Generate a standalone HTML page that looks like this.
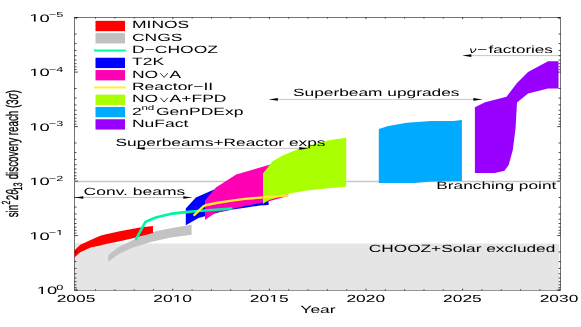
<!DOCTYPE html>
<html><head><meta charset="utf-8"><title>chart</title><style>html,body{margin:0;padding:0;background:#fff}svg{display:block;will-change:transform}text{font-family:"Liberation Sans",sans-serif;fill:#000;text-rendering:geometricPrecision}</style></head><body>
<svg width="581" height="327" viewBox="0 0 581 327">
<rect width="581" height="327" fill="#fff"/>
<rect x="74.5" y="17.4" width="486.1" height="273.0" fill="none" stroke="#000" stroke-width="0.55"/>
<rect x="75.2" y="243.5" width="484.00000000000006" height="46.80000000000001" fill="#e5e5e5"/>
<line x1="74.5" x2="560.6" y1="181.55" y2="181.55" stroke="#c8c8c8" stroke-width="1.5"/>
<polygon points="108.3,255.0 118.7,247.1 132.9,239.9 145.0,234.8 157.5,230.8 175.0,227.6 191.6,224.7 191.6,234.8 170.8,237.6 151.8,241.7 132.9,247.5 118.7,254.1 108.3,261.7" fill="#c3c3c3"/>
<polygon points="74.4,250.5 80.3,244.8 90.6,239.9 100.3,235.8 105.0,234.5 120.9,231.0 140.0,227.5 153.0,226.0 153.0,232.9 136.0,237.6 120.9,241.0 105.0,244.3 100.3,245.4 90.6,247.5 80.3,252.3 74.4,257.4" fill="#ff0000"/>
<polygon points="185.8,208.5 195.9,197.5 213.0,190.0 236.6,181.0 268.6,170.0 268.6,205.0 260.0,205.5 245.0,207.8 232.8,209.6 220.3,212.0 205.0,216.2 198.5,217.9 185.8,225.2" fill="#0000ff"/>
<polygon points="205.0,200.4 215.9,187.4 236.2,174.6 270.5,164.4 288.1,159.0 288.1,196.1 269.0,201.2 245.0,206.1 230.7,209.2 215.1,213.1 205.0,220.1" fill="#ff00b4"/>
<polyline points="136.0,239.2 145.5,221.9 149.1,220.3 156.6,217.3 170.4,213.9 185.5,212.1 195.0,211.3 231.3,208.5" fill="none" stroke="#00f5a0" stroke-width="2.6" stroke-linejoin="round" stroke-linecap="round"/>
<polygon points="263.0,173.6 272.6,161.3 283.2,155.2 299.0,148.7 314.6,144.0 330.2,140.1 346.2,137.7 346.2,186.8 330.2,188.1 306.8,190.4 289.6,193.5 268.6,200.2 263.0,203.8" fill="#aaff00"/>
<polyline points="194.4,214.9 203.6,206.2 205.5,205.2 216.2,203.0 231.8,200.6 245.0,198.9 268.0,197.0 287.7,195.4" fill="none" stroke="#ffea30" stroke-width="2.4" stroke-linejoin="round" stroke-linecap="round"/>
<polygon points="378.8,129.1 388.3,125.9 406.7,122.7 431.1,121.0 453.1,121.0 461.9,119.9 461.9,180.9 431.1,181.4 414.0,182.9 378.8,182.9" fill="#00aaff"/>
<polygon points="474.9,107.3 485.1,102.3 506.5,96.8 517.0,83.0 528.0,71.9 548.0,61.3 558.5,61.3 558.5,88.5 548.0,88.5 528.0,93.5 517.0,102.5 515.6,127.7 512.8,149.9 508.7,165.1 504.5,170.7 494.8,172.9 474.9,172.9" fill="#9900ff"/>
<path d="M76.20,290.4v-1.8M76.20,17.4v1.8M95.52,290.4v-1.2M95.52,17.4v1.2M114.84,290.4v-1.2M114.84,17.4v1.2M134.16,290.4v-1.2M134.16,17.4v1.2M153.48,290.4v-1.2M153.48,17.4v1.2M172.80,290.4v-1.8M172.80,17.4v1.8M192.12,290.4v-1.2M192.12,17.4v1.2M211.44,290.4v-1.2M211.44,17.4v1.2M230.76,290.4v-1.2M230.76,17.4v1.2M250.08,290.4v-1.2M250.08,17.4v1.2M269.40,290.4v-1.8M269.40,17.4v1.8M288.72,290.4v-1.2M288.72,17.4v1.2M308.04,290.4v-1.2M308.04,17.4v1.2M327.36,290.4v-1.2M327.36,17.4v1.2M346.68,290.4v-1.2M346.68,17.4v1.2M366.00,290.4v-1.8M366.00,17.4v1.8M385.32,290.4v-1.2M385.32,17.4v1.2M404.64,290.4v-1.2M404.64,17.4v1.2M423.96,290.4v-1.2M423.96,17.4v1.2M443.28,290.4v-1.2M443.28,17.4v1.2M462.60,290.4v-1.8M462.60,17.4v1.8M481.92,290.4v-1.2M481.92,17.4v1.2M501.24,290.4v-1.2M501.24,17.4v1.2M520.56,290.4v-1.2M520.56,17.4v1.2M539.88,290.4v-1.2M539.88,17.4v1.2M559.20,290.4v-1.8M559.20,17.4v1.8M74.5,17.60h3.4M560.6,17.60h-3.4M74.5,34.01h2.0M560.6,34.01h-2.0M74.5,43.60h2.0M560.6,43.60h-2.0M74.5,50.41h2.0M560.6,50.41h-2.0M74.5,55.69h2.0M560.6,55.69h-2.0M74.5,60.01h2.0M560.6,60.01h-2.0M74.5,63.66h2.0M560.6,63.66h-2.0M74.5,66.82h2.0M560.6,66.82h-2.0M74.5,69.61h2.0M560.6,69.61h-2.0M74.5,72.10h3.4M560.6,72.10h-3.4M74.5,88.51h2.0M560.6,88.51h-2.0M74.5,98.10h2.0M560.6,98.10h-2.0M74.5,104.91h2.0M560.6,104.91h-2.0M74.5,110.19h2.0M560.6,110.19h-2.0M74.5,114.51h2.0M560.6,114.51h-2.0M74.5,118.16h2.0M560.6,118.16h-2.0M74.5,121.32h2.0M560.6,121.32h-2.0M74.5,124.11h2.0M560.6,124.11h-2.0M74.5,126.60h3.4M560.6,126.60h-3.4M74.5,143.01h2.0M560.6,143.01h-2.0M74.5,152.60h2.0M560.6,152.60h-2.0M74.5,159.41h2.0M560.6,159.41h-2.0M74.5,164.69h2.0M560.6,164.69h-2.0M74.5,169.01h2.0M560.6,169.01h-2.0M74.5,172.66h2.0M560.6,172.66h-2.0M74.5,175.82h2.0M560.6,175.82h-2.0M74.5,178.61h2.0M560.6,178.61h-2.0M74.5,181.10h3.4M560.6,181.10h-3.4M74.5,197.51h2.0M560.6,197.51h-2.0M74.5,207.10h2.0M560.6,207.10h-2.0M74.5,213.91h2.0M560.6,213.91h-2.0M74.5,219.19h2.0M560.6,219.19h-2.0M74.5,223.51h2.0M560.6,223.51h-2.0M74.5,227.16h2.0M560.6,227.16h-2.0M74.5,230.32h2.0M560.6,230.32h-2.0M74.5,233.11h2.0M560.6,233.11h-2.0M74.5,235.60h3.4M560.6,235.60h-3.4M74.5,252.01h2.0M560.6,252.01h-2.0M74.5,261.60h2.0M560.6,261.60h-2.0M74.5,268.41h2.0M560.6,268.41h-2.0M74.5,273.69h2.0M560.6,273.69h-2.0M74.5,278.01h2.0M560.6,278.01h-2.0M74.5,281.66h2.0M560.6,281.66h-2.0M74.5,284.82h2.0M560.6,284.82h-2.0M74.5,287.61h2.0M560.6,287.61h-2.0M74.5,290.10h3.4M560.6,290.10h-3.4" stroke="#000" stroke-width="0.7" fill="none"/>
<text transform="translate(56.65,302.00) scale(1.689,1)" font-size="10.3">2005</text>
<text transform="translate(153.25,302.00) scale(1.689,1)" font-size="10.3">20</text>
<path transform="translate(172.60,302.00) scale(0.00849,-0.00503)" d="M515 0V1237L197 1010V1180L530 1409H696V0Z" fill="#000"/>
<text transform="translate(182.28,302.00) scale(1.689,1)" font-size="10.3">0</text>
<text transform="translate(249.85,302.00) scale(1.689,1)" font-size="10.3">20</text>
<path transform="translate(269.20,302.00) scale(0.00849,-0.00503)" d="M515 0V1237L197 1010V1180L530 1409H696V0Z" fill="#000"/>
<text transform="translate(278.88,302.00) scale(1.689,1)" font-size="10.3">5</text>
<text transform="translate(346.45,302.00) scale(1.689,1)" font-size="10.3">2020</text>
<text transform="translate(443.05,302.00) scale(1.689,1)" font-size="10.3">2025</text>
<text transform="translate(539.65,302.00) scale(1.689,1)" font-size="10.3">2030</text>
<text transform="translate(318.00,312.80) scale(1.664,1)" font-size="10.5" text-anchor="middle" >Year</text>
<path transform="translate(29.32,21.50) scale(0.00899,-0.00522)" d="M515 0V1237L197 1010V1180L530 1409H696V0Z" fill="#000"/>
<text transform="translate(39.55,21.50) scale(1.72,1)" font-size="10.7">0</text>
<text transform="translate(48.79,17.10) scale(1.72,1)" font-size="7.4">−5</text>
<path transform="translate(29.32,76.00) scale(0.00899,-0.00522)" d="M515 0V1237L197 1010V1180L530 1409H696V0Z" fill="#000"/>
<text transform="translate(39.55,76.00) scale(1.72,1)" font-size="10.7">0</text>
<text transform="translate(48.79,71.60) scale(1.72,1)" font-size="7.4">−4</text>
<path transform="translate(29.32,130.50) scale(0.00899,-0.00522)" d="M515 0V1237L197 1010V1180L530 1409H696V0Z" fill="#000"/>
<text transform="translate(39.55,130.50) scale(1.72,1)" font-size="10.7">0</text>
<text transform="translate(48.79,126.10) scale(1.72,1)" font-size="7.4">−3</text>
<path transform="translate(29.32,185.00) scale(0.00899,-0.00522)" d="M515 0V1237L197 1010V1180L530 1409H696V0Z" fill="#000"/>
<text transform="translate(39.55,185.00) scale(1.72,1)" font-size="10.7">0</text>
<text transform="translate(48.79,180.60) scale(1.72,1)" font-size="7.4">−2</text>
<path transform="translate(29.32,239.50) scale(0.00899,-0.00522)" d="M515 0V1237L197 1010V1180L530 1409H696V0Z" fill="#000"/>
<text transform="translate(39.55,239.50) scale(1.72,1)" font-size="10.7">0</text>
<text transform="translate(48.79,235.10) scale(1.72,1)" font-size="7.4">−</text>
<path transform="translate(56.22,235.10) scale(0.00621,-0.00361)" d="M515 0V1237L197 1010V1180L530 1409H696V0Z" fill="#000"/>
<path transform="translate(36.75,294.00) scale(0.00899,-0.00522)" d="M515 0V1237L197 1010V1180L530 1409H696V0Z" fill="#000"/>
<text transform="translate(46.99,294.00) scale(1.72,1)" font-size="10.7">0</text>
<text transform="translate(56.22,289.60) scale(1.72,1)" font-size="7.4">0</text>
<text transform="translate(18.2,217.3) rotate(-90) scale(1,1.7)" font-size="9.8" stroke="#000" stroke-width="0.18">sin<tspan font-size="6.9" dy="-5.0" dx="0.3">2</tspan><tspan dy="5.0" dx="0.5">2<tspan font-style="italic">θ</tspan></tspan><tspan font-size="7.2" dy="2" dx="-1.2">13</tspan><tspan dy="-2" dx="0.5"> discovery reach (3<tspan font-style="italic">σ</tspan>)</tspan></text>
<rect x="95.5" y="20.85" width="29.5" height="10.3" fill="#ff0000"/>
<text transform="translate(132.00,28.45) scale(1.664,1)" font-size="10.5" text-anchor="start" >MINOS</text>
<rect x="95.5" y="33.15" width="29.5" height="10.3" fill="#c0c0c0"/>
<text transform="translate(132.00,40.75) scale(1.664,1)" font-size="10.5" text-anchor="start" >CNGS</text>
<line x1="94" x2="125.8" y1="50.55" y2="50.55" stroke="#00ffa0" stroke-width="2.0"/>
<text transform="translate(132.00,53.05) scale(1.664,1)" font-size="10.5" text-anchor="start" >D−CHOOZ</text>
<rect x="95.5" y="57.75" width="29.5" height="10.3" fill="#0000ff"/>
<text transform="translate(132.00,65.35) scale(1.664,1)" font-size="10.5" text-anchor="start" >T2K</text>
<rect x="95.5" y="70.05" width="29.5" height="10.3" fill="#ff00b4"/>
<text transform="translate(132.00,77.65) scale(1.664,1)" font-size="10.5" text-anchor="start" >NO</text>
<text transform="translate(169.60,77.65) scale(1.664,1)" font-size="10.5" text-anchor="start" >A</text>
<polyline points="160.40,73.15 164.10,77.45 167.90,73.15" fill="none" stroke="#000" stroke-width="0.8"/>
<line x1="94" x2="125.8" y1="87.45" y2="87.45" stroke="#ffee33" stroke-width="2.0"/>
<text transform="translate(132.00,89.95) scale(1.664,1)" font-size="10.5" text-anchor="start" >Reactor−II</text>
<rect x="95.5" y="94.65" width="29.5" height="10.3" fill="#aaff00"/>
<text transform="translate(132.00,102.25) scale(1.664,1)" font-size="10.5" text-anchor="start" >NO</text>
<text transform="translate(169.60,102.25) scale(1.664,1)" font-size="10.5" text-anchor="start" >A+FPD</text>
<polyline points="160.40,97.75 164.10,102.05 167.90,97.75" fill="none" stroke="#000" stroke-width="0.8"/>
<rect x="95.5" y="106.95" width="29.5" height="10.3" fill="#00aaff"/>
<text transform="translate(132.00,114.55) scale(1.664,1)" font-size="10.5" text-anchor="start" >2<tspan font-size="7" dy="-4.1" dx="-0.2">nd</tspan><tspan dy="4.1" dx="1.0">GenPDExp</tspan></text>
<rect x="95.5" y="119.25" width="29.5" height="10.3" fill="#9900ff"/>
<text transform="translate(132.00,126.85) scale(1.664,1)" font-size="10.5" text-anchor="start" >NuFact</text>
<line x1="74.6" x2="192" y1="197.5" y2="197.5" stroke="#000" stroke-width="0.23"/>
<polygon points="74.6,197.5 83.3,196.2 83.3,198.8" fill="#000"/>
<polygon points="192,197.5 183.3,196.2 183.3,198.8" fill="#000"/>
<text transform="translate(83.60,194.80) scale(1.664,1)" font-size="10.5" text-anchor="start" >Conv. beams</text>
<line x1="136" x2="308" y1="148.4" y2="148.4" stroke="#000" stroke-width="0.23"/>
<polygon points="136,148.4 144.7,147.1 144.7,149.70000000000002" fill="#000"/>
<polygon points="308,148.4 299.3,147.1 299.3,149.70000000000002" fill="#000"/>
<text transform="translate(115.60,146.00) scale(1.645,1)" font-size="10.5" text-anchor="start" >Superbeams+Reactor exps</text>
<line x1="269.1" x2="482.1" y1="99.4" y2="99.4" stroke="#000" stroke-width="0.23"/>
<polygon points="269.1,99.4 277.8,98.10000000000001 277.8,100.7" fill="#000"/>
<polygon points="482.1,99.4 473.40000000000003,98.10000000000001 473.40000000000003,100.7" fill="#000"/>
<text transform="translate(293.00,96.40) scale(1.649,1)" font-size="10.5" text-anchor="start" >Superbeam upgrades</text>
<line x1="462.6" x2="560.6" y1="55.6" y2="55.6" stroke="#000" stroke-width="0.23"/>
<polygon points="462.6,55.6 471.3,54.300000000000004 471.3,56.9" fill="#000"/>
<text transform="translate(469.30,52.80) scale(1.664,1)" font-size="8.6" text-anchor="start" font-style="italic">ν</text>
<text transform="translate(477.10,52.80) scale(1.664,1)" font-size="10.5" text-anchor="start" >−</text>
<text transform="translate(488.40,52.80) scale(1.625,1)" font-size="10.5" text-anchor="start" >factories</text>
<text transform="translate(556.30,188.90) scale(1.645,1)" font-size="10.5" text-anchor="end" >Branching point</text>
<text transform="translate(555.30,251.80) scale(1.643,1)" font-size="10.5" text-anchor="end" >CHOOZ+Solar excluded</text>
</svg></body></html>
